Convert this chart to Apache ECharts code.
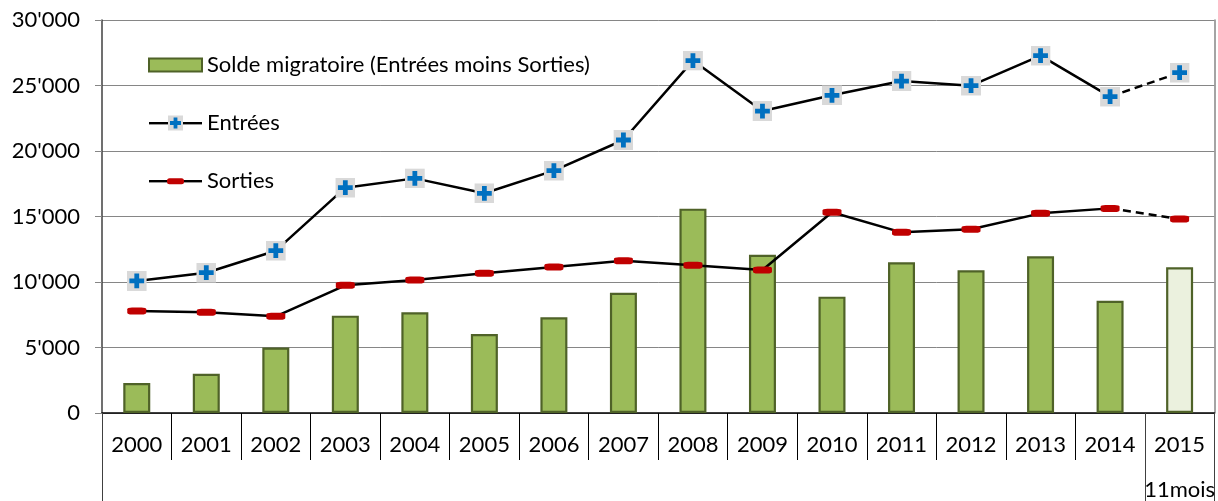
<!DOCTYPE html>
<html>
<head>
<meta charset="utf-8">
<script src="https://cdn.jsdelivr.net/npm/echarts@6/dist/echarts.min.js"></script>
<style>
  html, body { margin: 0; padding: 0; background: #ffffff; }
  #chart { width: 1218px; height: 501px; }
</style>
</head>
<body>
<div id="chart"></div>
<script>
// Migration flows by year (2015 covers 11 months)
const years = ['2000','2001','2002','2003','2004','2005','2006','2007','2008','2009','2010','2011','2012','2013','2014','2015'];
const periodLabels = ['','','','','','','','','','','','','','','','11mois'];
const solde   = [2290, 3000, 5000, 7430, 7690, 6030, 7300, 9180, 15600, 12080, 8880, 11500, 10890, 11960, 8570, 11120];
const entrees = [10080, 10710, 12390, 17200, 17910, 16770, 18500, 20840, 26900, 23050, 24250, 25340, 24990, 27280, 24150, 25980];
const sorties = [7790, 7690, 7380, 9750, 10150, 10660, 11150, 11630, 11270, 10920, 15320, 13790, 14020, 15240, 15620, 14810];
const yTicks = { min: 0, max: 30000, interval: 5000 };

const FONT = 'Lato';
const FONT_SIZE = 22;
const svgUrl = s => 'image://data:image/svg+xml;charset=utf-8,' + encodeURIComponent(s);

// Grey square with a blue cross, used on the Entrées line
const plusSvg = "<svg xmlns='http://www.w3.org/2000/svg' width='20' height='20'>" +
  "<rect width='20' height='20' fill='#d9d9d9'/>" +
  "<path d='M7.6 2.6h4.8v5h5v4.8h-5v5h-4.8v-5h-5v-4.8h5z' fill='#0070c0'/></svg>";
// Legend keys: line with a smaller marker in the middle
const plusLegendSvg = "<svg xmlns='http://www.w3.org/2000/svg' width='53' height='20'>" +
  "<rect x='0' y='9' width='53' height='2.4' fill='#000'/>" +
  "<rect x='19' y='2.5' width='15' height='15' fill='#d9d9d9'/>" +
  "<path d='M24.6 4.5h3.8v3.6h3.6v3.8h-3.6v3.6h-3.8v-3.6h-3.6v-3.8h3.6z' fill='#0070c0'/></svg>";
const dashLegendSvg = "<svg xmlns='http://www.w3.org/2000/svg' width='53' height='20'>" +
  "<rect x='0' y='9' width='53' height='2.4' fill='#000'/>" +
  "<rect x='18' y='7.2' width='17' height='6' rx='2.5' fill='#c00000'/></svg>";

const last = years.length - 1;
// Solid part of each line stops at the last full year, the dashed part joins it to the partial year
const solidPart = arr => arr.map((v, i) => (i < last ? v : '-'));
const dashedPart = arr => arr.map((v, i) => (i === last - 1 ? { value: v, symbol: 'none' } : (i === last ? v : '-')));

const fmt = v => String(v).replace(/\B(?=(\d{3})+(?!\d))/g, "'");

const chart = echarts.init(document.getElementById('chart'), null, { renderer: 'canvas' });
chart.setOption({
  animation: false,
  textStyle: { fontFamily: FONT, color: '#000' },
  grid: { left: 102, right: 2, top: 20, bottom: 88, containLabel: false },
  legend: {
    orient: 'vertical',
    left: 148,
    top: 54,
    padding: 0,
    itemWidth: 53,
    itemHeight: 20,
    itemGap: 36,
    selectedMode: false,
    textStyle: { fontFamily: FONT, fontSize: FONT_SIZE, color: '#000' },
    data: [
      { name: 'Solde migratoire (Entrées moins Sorties)', icon: 'path://M0 0H53V13H0Z' },
      { name: 'Entrées', icon: svgUrl(plusLegendSvg) },
      { name: 'Sorties', icon: svgUrl(dashLegendSvg) }
    ]
  },
  xAxis: [
    {
      type: 'category',
      data: years,
      position: 'bottom',
      axisLine: { show: true, lineStyle: { color: '#000', width: 1.5 } },
      axisTick: { show: true, interval: 0, length: 47, lineStyle: { color: '#000', width: 1 } },
      axisLabel: { interval: 0, fontSize: FONT_SIZE, fontFamily: FONT, color: '#000', margin: 21 },
      splitLine: { show: false }
    },
    {
      type: 'category',
      data: periodLabels,
      position: 'bottom',
      offset: 0,
      axisLine: { show: false },
      axisTick: { show: true, interval: i => i === 0 || i === last, length: 88, lineStyle: { color: '#404040', width: 1 } },
      axisLabel: { interval: 0, fontSize: FONT_SIZE, fontFamily: FONT, color: '#000', margin: 66 },
      splitLine: { show: false }
    }
  ],
  yAxis: [
    {
      type: 'value',
      min: yTicks.min,
      max: yTicks.max,
      interval: yTicks.interval,
      axisLine: { show: true, lineStyle: { color: '#404040', width: 1.5 } },
      axisTick: { show: true, length: 7, lineStyle: { color: '#868686' } },
      axisLabel: { fontSize: FONT_SIZE, fontFamily: FONT, color: '#000', margin: 22, formatter: fmt },
      splitLine: { show: true, lineStyle: { color: '#868686', width: 1 } }
    },
    {
      type: 'value',
      position: 'right',
      min: yTicks.min,
      max: yTicks.max,
      interval: yTicks.interval,
      axisLine: { show: true, lineStyle: { color: '#868686', width: 1.5 } },
      axisTick: { show: false },
      axisLabel: { show: false },
      splitLine: { show: false }
    }
  ],
  series: [
    {
      name: 'Solde migratoire (Entrées moins Sorties)',
      type: 'bar',
      barWidth: 27,
      itemStyle: { color: '#9bbb59', borderColor: '#4f6228', borderWidth: 2.2 },
      data: solde.map((v, i) => (i === last ? { value: v, itemStyle: { color: '#ebf1de' } } : v)),
      z: 2
    },
    {
      name: 'Sorties',
      type: 'line',
      data: solidPart(sorties),
      symbol: 'roundRect',
      symbolSize: [19, 7],
      itemStyle: { color: '#c00000' },
      lineStyle: { color: '#000', width: 2.5 },
      z: 3
    },
    {
      name: 'Sorties (partiel)',
      type: 'line',
      data: dashedPart(sorties),
      symbol: 'roundRect',
      symbolSize: [19, 7],
      itemStyle: { color: '#c00000' },
      lineStyle: { color: '#000', width: 2.5, type: [8, 5] },
      z: 3
    },
    {
      name: 'Entrées',
      type: 'line',
      data: solidPart(entrees),
      symbol: svgUrl(plusSvg),
      symbolSize: 20,
      itemStyle: { color: '#0070c0' },
      lineStyle: { color: '#000', width: 2.5 },
      z: 4
    },
    {
      name: 'Entrées (partiel)',
      type: 'line',
      data: dashedPart(entrees),
      symbol: svgUrl(plusSvg),
      symbolSize: 20,
      itemStyle: { color: '#0070c0' },
      lineStyle: { color: '#000', width: 2.5, type: [8, 5] },
      z: 4
    }
  ]
});
</script>
</body>
</html>
